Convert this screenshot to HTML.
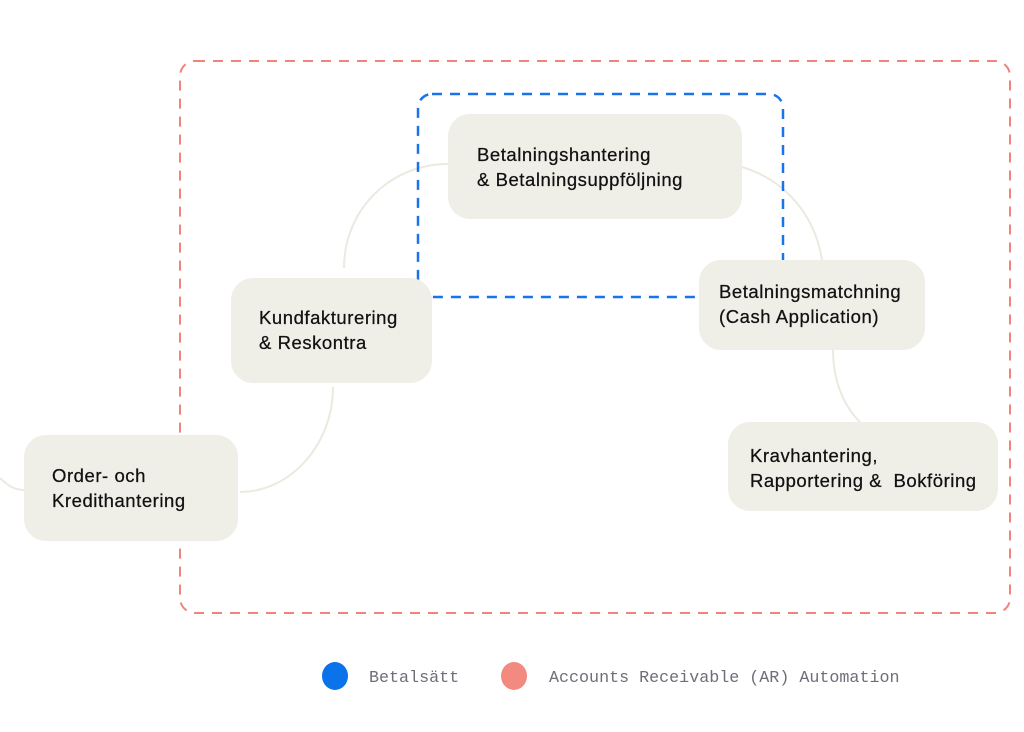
<!DOCTYPE html>
<html><head><meta charset="utf-8"><style>
html,body{margin:0;padding:0;background:#fff;}
svg{display:block}
.t{font-family:"Liberation Sans",sans-serif;font-size:18.5px;letter-spacing:0.55px;fill:#111;stroke:#111;stroke-width:0.25px;}
.m{font-family:"Liberation Mono",monospace;font-size:16.7px;fill:#6e6e7a;}
</style></head><body>
<svg width="1024" height="732" viewBox="0 0 1024 732" xmlns="http://www.w3.org/2000/svg">
<g fill="none" stroke="#ebe9e0" stroke-width="2">
<path d="M344 268 C344 210 390 164 448 164"/>
<path d="M742 167 C785 180 815 215 822 260"/>
<path d="M833 350 C833 380 843 405 860 422"/>
<path d="M333 387 C333 445 290 492 240 492"/>
<path d="M0 478 C8 486 15 490 24 490"/>
</g>
<rect x="180" y="61" width="830" height="552" rx="15" fill="none" stroke="#f0837c" stroke-width="2" stroke-dasharray="10 8"/>
<rect x="418" y="94" width="365" height="203" rx="14" fill="none" stroke="#1a73e8" stroke-width="2.5" stroke-dasharray="10 8"/>
<g fill="#efeee7">
<rect x="448" y="114" width="294" height="105" rx="22"/>
<rect x="231" y="278" width="201" height="105" rx="22"/>
<rect x="699" y="260" width="226" height="90" rx="22"/>
<rect x="728" y="422" width="270" height="89" rx="22"/>
<rect x="24" y="435" width="214" height="106" rx="22"/>
</g>
<text class="t" x="477" y="161">Betalningshantering</text>
<text class="t" x="477" y="186">&amp; Betalningsuppföljning</text>
<text class="t" x="259" y="324">Kundfakturering</text>
<text class="t" x="259" y="349">&amp; Reskontra</text>
<text class="t" x="719" y="298">Betalningsmatchning</text>
<text class="t" x="719" y="323">(Cash Application)</text>
<text class="t" x="750" y="462">Kravhantering,</text>
<text class="t" x="750" y="487" xml:space="preserve">Rapportering &amp;  Bokföring</text>
<text class="t" x="52" y="482">Order- och</text>
<text class="t" x="52" y="507">Kredithantering</text>
<ellipse cx="335" cy="676" rx="13" ry="14" fill="#0a73ea"/>
<text class="m" x="369" y="682">Betalsätt</text>
<ellipse cx="514" cy="676" rx="13" ry="14" fill="#f28a80"/>
<text class="m" x="549" y="682">Accounts Receivable (AR) Automation</text>
</svg>
</body></html>
